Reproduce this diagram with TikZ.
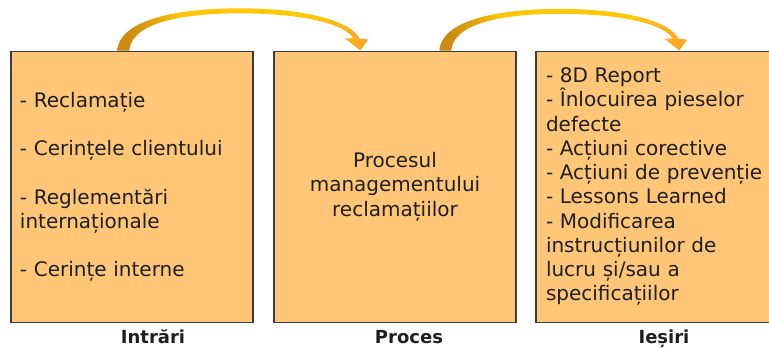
\documentclass[tikz,border=0pt]{standalone}
\usepackage{fontspec}
\setmainfont{DejaVu Sans}
\usetikzlibrary{calc}

\definecolor{boxfill}{HTML}{FFC677}
\definecolor{boxline}{HTML}{3C3C3C}
\definecolor{arrowdark}{HTML}{C98A12}
\definecolor{arrowyellow}{HTML}{FFC60A}
\definecolor{arrowhead}{HTML}{F7A428}
\pgfdeclarehorizontalshading{bendshade}{100bp}{color(0bp)=(arrowdark); color(27bp)=(arrowdark); color(38bp)=(arrowyellow); color(64bp)=(arrowyellow); color(75bp)=(arrowhead); color(100bp)=(arrowhead)}

\tikzset{
  box/.style={draw=boxline, line width=1.1pt, fill=boxfill, minimum width=181.5pt, minimum height=203.25pt,
    inner xsep=6.75pt, inner ysep=0pt, text width=168pt, align=left, font=\fontsize{15}{18.2}\selectfont, text=black!88},
  tag/.style={font=\bfseries\fontsize{13.5}{16}\selectfont, text=black!88, inner sep=0pt, anchor=base},
  flowshade/.style={shading=bendshade}
}

% curved arrow from #1 to #2 as a filled shape, 236 units wide
\newcommand{\bendarrow}[2]{%
  \path let \p1=($(#2)-(#1)$) in \pgfextra{\pgfmathparse{\x1/236}\xdef\bunit{\pgfmathresult}};
  \begin{scope}[shift={(#1)}, x=\bunit pt, y=\bunit pt]
    \shade[flowshade] (-6,0) .. controls (-4,28) and (45,42) .. (116,42)
      .. controls (185,42) and (228,28) .. (235,12)
      -- (244,11) -- (236,0) -- (221,12) -- (229,12)
      .. controls (222,26) and (180,37) .. (116,37)
      .. controls (50,37) and (8,25) .. (6,0) -- cycle;
  \end{scope}}

\begin{document}
\begin{tikzpicture}[x=0.75pt, y=0.75pt]
\useasboundingbox (0,0) rectangle (769,347);
%\draw[help lines, step=20] (0,0) grid (769,347);
\node[box] (in) at (132,160.25) {- Reclamație\\[18.2pt]- Cerințele clientului\\[18.2pt]- Reglementări\\internaționale\\[18.2pt]- Cerințe interne};
\node[box, align=center] (proc) at (395,160.25) {Procesul\\managementului\\reclamațiilor};
\node[box, minimum width=182.25pt, inner xsep=7.5pt, text width=167.25pt] (out) at (657.5,160.25) {- 8D Report\\- Înlocuirea pieselor\\defecte\\- Acțiuni corective\\- Acțiuni de prevenție\\- Lessons Learned\\- Modificarea\\instrucțiunilor de\\lucru și/sau a\\specificațiilor};

\node[tag] (inlbl) at (153,3) {Intrări};
\node[tag] (proclbl) at (409,3) {Proces};
\node[tag] (outlbl) at (664,3) {Ieșiri};

\coordinate (t1) at ($(in.north west)+(113,0)$);
\coordinate (h1) at ($(proc.north west)+(87,0)$);
\coordinate (t2) at ($(proc.north west)+(172,0)$);
\coordinate (h2) at ($(out.north west)+(144,0)$);
\bendarrow{t1}{h1}
\bendarrow{t2}{h2}
\end{tikzpicture}
\end{document}
